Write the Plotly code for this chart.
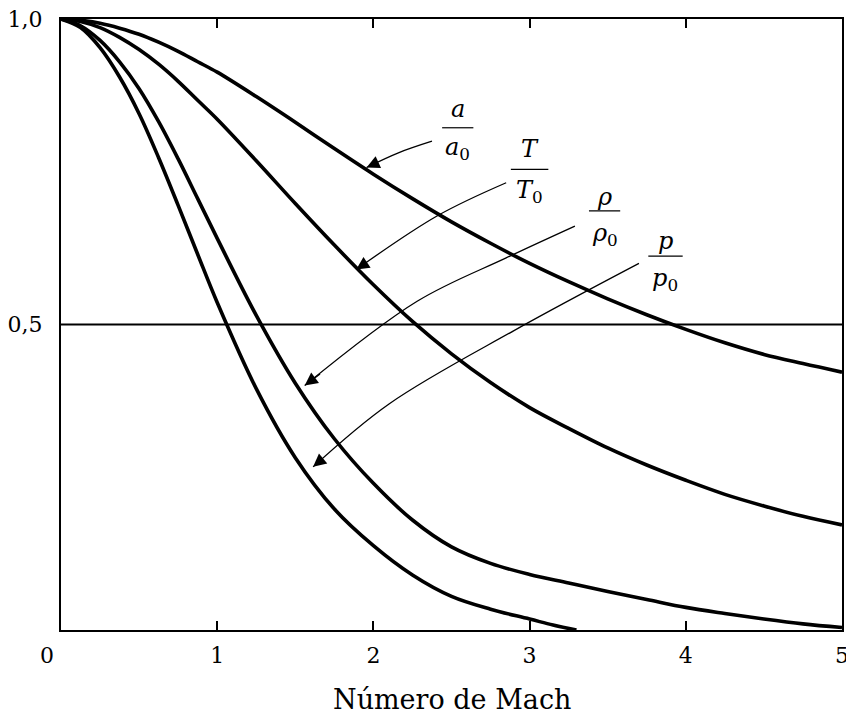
import plotly.graph_objects as go

# ---- data ----
mach = [0, 0.125, 0.25, 0.375, 0.5, 0.625, 0.75, 0.875, 1.0, 1.25, 1.5, 1.75,
        2.0, 2.25, 2.5, 2.75, 3.0, 3.25, 3.5, 3.75, 4.0, 4.25, 4.5, 4.75, 5.0]
a_ratio = [1.0, 0.998, 0.993, 0.985, 0.975, 0.962, 0.947, 0.930, 0.913, 0.873,
           0.831, 0.788, 0.746, 0.706, 0.668, 0.633, 0.600, 0.570, 0.542, 0.516,
           0.492, 0.470, 0.451, 0.436, 0.422]
T_ratio = [1.0, 0.996, 0.986, 0.970, 0.950, 0.926, 0.898, 0.867, 0.836, 0.768,
           0.698, 0.630, 0.565, 0.505, 0.452, 0.405, 0.364, 0.330, 0.298, 0.270,
           0.245, 0.222, 0.203, 0.186, 0.172]
rho_ratio = [1.0, 0.989, 0.965, 0.930, 0.886, 0.832, 0.771, 0.706, 0.641, 0.515,
             0.404, 0.313, 0.240, 0.180, 0.136, 0.109, 0.091, 0.077, 0.063, 0.050,
             0.037, 0.027, 0.018, 0.010, 0.004]
mach_p = [0, 0.125, 0.25, 0.375, 0.5, 0.625, 0.75, 0.875, 1.0, 1.25, 1.5, 1.75,
          2.0, 2.25, 2.5, 2.75, 3.0, 3.15, 3.3]
p_ratio = [1.0, 0.986, 0.953, 0.905, 0.845, 0.773, 0.695, 0.615, 0.536, 0.395,
           0.282, 0.198, 0.138, 0.090, 0.055, 0.034, 0.018, 0.008, 0.0]

x_tickvals = [1, 2, 3, 4, 5]
x_ticktext = ["1", "2", "3", "4", "5"]
x_zero_label = "0"
y_tickvals = [0.5, 1.0]
y_ticktext = ["0,5", "1,0"]

# curve labels: (numerator, denominator, M, v_num, v_line, v_den, half-width)
labels = [
    ("<i>a</i>", "<i>a</i><sub>0</sub>", 2.54, 0.852, 0.822, 0.788, 0.10),
    ("<i>T</i>", "<i>T</i><sub>0</sub>", 3.00, 0.787, 0.754, 0.718, 0.12),
    ("<i>ρ</i>", "<i>ρ</i><sub>0</sub>", 3.48, 0.708, 0.686, 0.648, 0.10),
    ("<i>p</i>", "<i>p</i><sub>0</sub>", 3.87, 0.636, 0.612, 0.573, 0.11),
]
# leader arrows (path from label to curve; last point is the tip)
arrow_paths = [
    ([2.375, 2.16, 1.956], [0.800, 0.781, 0.757]),
    ([2.85, 2.41, 1.89], [0.732, 0.678, 0.590]),
    ([3.29, 2.85, 2.28, 1.56], [0.661, 0.609, 0.538, 0.400]),
    ([3.70, 2.90, 2.10, 1.614], [0.600, 0.490, 0.370, 0.267]),
]

fig = go.Figure()
line_style = dict(color="black", width=3.6, shape="spline", smoothing=1.0)
for xs, ys in [(mach, a_ratio), (mach, T_ratio), (mach, rho_ratio), (mach_p, p_ratio)]:
    fig.add_trace(go.Scatter(x=xs, y=ys, mode="lines", line=line_style,
                             hoverinfo="skip", showlegend=False))

for xs, ys in arrow_paths:
    fig.add_trace(go.Scatter(x=xs, y=ys, mode="lines",
                             line=dict(color="black", width=1.3, shape="spline", smoothing=1.0),
                             hoverinfo="skip", showlegend=False))
    # arrowhead: short segment pointing into the tip along the last leg
    bx = xs[-1] + 0.15 * (xs[-2] - xs[-1])
    by = ys[-1] + 0.15 * (ys[-2] - ys[-1])
    fig.add_annotation(x=xs[-1], y=ys[-1], ax=bx, ay=by,
                       xref="x", yref="y", axref="x", ayref="y",
                       text="", showarrow=True, arrowhead=2, arrowsize=2.0,
                       arrowwidth=1.3, arrowcolor="black", standoff=0)

lab_font = dict(family="DejaVu Serif", size=24, color="black")
for num, den, m, vn, vl, vd, hw in labels:
    fig.add_annotation(x=m, y=vn, text=num, showarrow=False, font=lab_font,
                       xanchor="center", yanchor="middle")
    fig.add_annotation(x=m, y=vd, text=den, showarrow=False, font=lab_font,
                       xanchor="center", yanchor="middle")
    fig.add_shape(type="line", x0=m - hw, x1=m + hw, y0=vl, y1=vl,
                  xref="x", yref="y", line=dict(color="black", width=1.2))

# horizontal line at 0,5
fig.add_shape(type="line", xref="paper", x0=0, x1=1, yref="y", y0=0.5, y1=0.5,
              line=dict(color="black", width=1.8))

tick_font = dict(family="DejaVu Serif", size=22, color="black")
fig.update_xaxes(range=[0, 5], tickvals=x_tickvals, ticktext=x_ticktext,
                 ticks="inside", ticklen=9, tickwidth=1.5, tickcolor="black",
                 showline=True, linecolor="black", linewidth=2, mirror="ticks",
                 showgrid=False, zeroline=False, tickfont=tick_font,
                 ticklabelstandoff=5, automargin=False, ticklabeloverflow="allow")
fig.update_yaxes(range=[0, 1], tickvals=y_tickvals, ticktext=y_ticktext,
                 ticks="", showline=True, linecolor="black", linewidth=2,
                 mirror=True, showgrid=False, zeroline=False, tickfont=tick_font,
                 ticklabelstandoff=12, automargin=False, ticklabeloverflow="allow")

# "0" label under the origin, set slightly left as in the original
fig.add_annotation(x=0, xref="x", y=0, yref="paper", yshift=-25, xshift=-14,
                   text=x_zero_label, showarrow=False, font=tick_font,
                   xanchor="center", yanchor="middle")

fig.add_annotation(xref="paper", yref="paper", x=0.5, y=-0.114,
                   text="Número de Mach", showarrow=False,
                   font=dict(family="DejaVu Serif", size=27, color="black"),
                   xanchor="center", yanchor="middle")

# the page body adds an 8px offset, so the figure is sized to fit the window
fig.update_layout(width=846, height=719,
                  margin=dict(l=53, r=12, t=11, b=97, autoexpand=False),
                  paper_bgcolor="white", plot_bgcolor="white")

fig.write_html("out.html")
